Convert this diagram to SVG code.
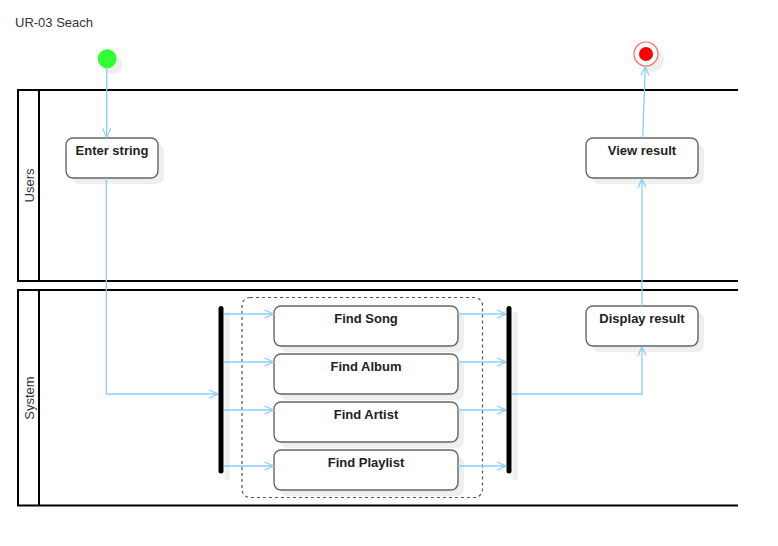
<svg xmlns="http://www.w3.org/2000/svg" width="778" height="546" viewBox="0 0 778 546">
<defs>
<style>
.lane{fill:none;stroke:#000;stroke-width:2}
.lbl{font-family:"Liberation Sans",Arial,sans-serif;font-size:13px;fill:#333}
.box{fill:#fff;stroke:#666;stroke-width:1.4}
.sh{fill:#efefef}
.t{font-family:"Liberation Sans",Arial,sans-serif;font-size:13px;font-weight:bold;fill:#222;text-anchor:middle}
.c{fill:none;stroke:#88cff6;stroke-width:1.3}
.bar{stroke:#000;stroke-width:5;stroke-linecap:round}
.barsh{stroke:#efefef;stroke-width:5;stroke-linecap:round}
</style>
<marker id="arr" viewBox="0 0 10 10" refX="10" refY="5" markerWidth="10" markerHeight="10" orient="auto" markerUnits="userSpaceOnUse">
<path d="M1,1 L10,5 L1,9" fill="none" stroke="#88cff6" stroke-width="1.2"/>
</marker>
</defs>
<rect width="778" height="546" fill="#fff"/>
<text class="lbl" x="15" y="27">UR-03 Seach</text>

<g id="lane-users">
<path class="lane" d="M738,90 H18 V281 H738"/>
<line class="lane" x1="39" y1="90" x2="39" y2="281"/>
<text class="lbl" transform="translate(34,185.5) rotate(-90)" text-anchor="middle">Users</text>
</g>
<g id="lane-system">
<path class="lane" d="M738,290 H18 V505.5 H738"/>
<line class="lane" x1="39" y1="290" x2="39" y2="505.5"/>
<text class="lbl" transform="translate(34,398) rotate(-90)" text-anchor="middle">System</text>
</g>

<g id="group-find">
<rect x="242" y="297.5" width="240.5" height="200" rx="8" fill="none" stroke="#555" stroke-width="1.2" stroke-dasharray="3 3"/>
</g>

<g id="start">
<circle cx="113" cy="65" r="9.5" class="sh"/>
<circle cx="107.2" cy="58.8" r="9.5" fill="#33ff33"/>
</g>
<g id="end">
<circle cx="652" cy="60" r="12" class="sh"/>
<circle cx="646" cy="54" r="12" fill="#fff" stroke="#ff6666" stroke-width="1.2"/>
<circle cx="646" cy="54" r="7" fill="#ff0000"/>
</g>

<g id="enter-string">
<rect class="sh" x="72" y="144" width="92" height="40" rx="7"/>
<rect class="box" x="66" y="138" width="92" height="40" rx="7"/>
<text class="t" x="112" y="155">Enter string</text>
</g>
<g id="view-result">
<rect class="sh" x="592" y="144" width="112" height="40" rx="7"/>
<rect class="box" x="586" y="138" width="112" height="40" rx="7"/>
<text class="t" x="642" y="155">View result</text>
</g>
<g id="display-result">
<rect class="sh" x="592" y="312" width="112" height="40" rx="7"/>
<rect class="box" x="586" y="306" width="112" height="40" rx="7"/>
<text class="t" x="642" y="323">Display result</text>
</g>
<g id="find-song">
<rect class="sh" x="280" y="312" width="184" height="40" rx="7"/>
<rect class="box" x="274" y="306" width="184" height="40" rx="7"/>
<text class="t" x="366" y="323">Find Song</text>
</g>
<g id="find-album">
<rect class="sh" x="280" y="360" width="184" height="40" rx="7"/>
<rect class="box" x="274" y="354" width="184" height="40" rx="7"/>
<text class="t" x="366" y="371">Find Album</text>
</g>
<g id="find-artist">
<rect class="sh" x="280" y="408" width="184" height="40" rx="7"/>
<rect class="box" x="274" y="402" width="184" height="40" rx="7"/>
<text class="t" x="366" y="419">Find Artist</text>
</g>
<g id="find-playlist">
<rect class="sh" x="280" y="456" width="184" height="40" rx="7"/>
<rect class="box" x="274" y="450" width="184" height="40" rx="7"/>
<text class="t" x="366" y="467">Find Playlist</text>
</g>
<g id="fork">
<line class="barsh" x1="227" y1="314" x2="227" y2="478"/>
<line class="bar" x1="221" y1="308.5" x2="221" y2="471"/>
</g>
<g id="join">
<line class="barsh" x1="515" y1="314" x2="515" y2="478"/>
<line class="bar" x1="509" y1="308.5" x2="509" y2="471"/>
</g>

<g id="connectors">
<path class="c" d="M106.7,68.5 V137.5" marker-end="url(#arr)"/>
<path class="c" d="M106.3,178 V394 H218" marker-end="url(#arr)"/>
<path class="c" d="M224,314 H273.5" marker-end="url(#arr)"/>
<path class="c" d="M224,362 H273.5" marker-end="url(#arr)"/>
<path class="c" d="M224,410 H273.5" marker-end="url(#arr)"/>
<path class="c" d="M224,466 H273.5" marker-end="url(#arr)"/>
<path class="c" d="M458,314 H506" marker-end="url(#arr)"/>
<path class="c" d="M458,362 H506" marker-end="url(#arr)"/>
<path class="c" d="M458,410 H506" marker-end="url(#arr)"/>
<path class="c" d="M458,466 H506" marker-end="url(#arr)"/>
<path class="c" d="M512,394 H642 V346.5" marker-end="url(#arr)"/>
<path class="c" d="M642,306 V178.5" marker-end="url(#arr)"/>
<path class="c" d="M642.7,138 L645.3,66.5" marker-end="url(#arr)"/>
</g>
</svg>
